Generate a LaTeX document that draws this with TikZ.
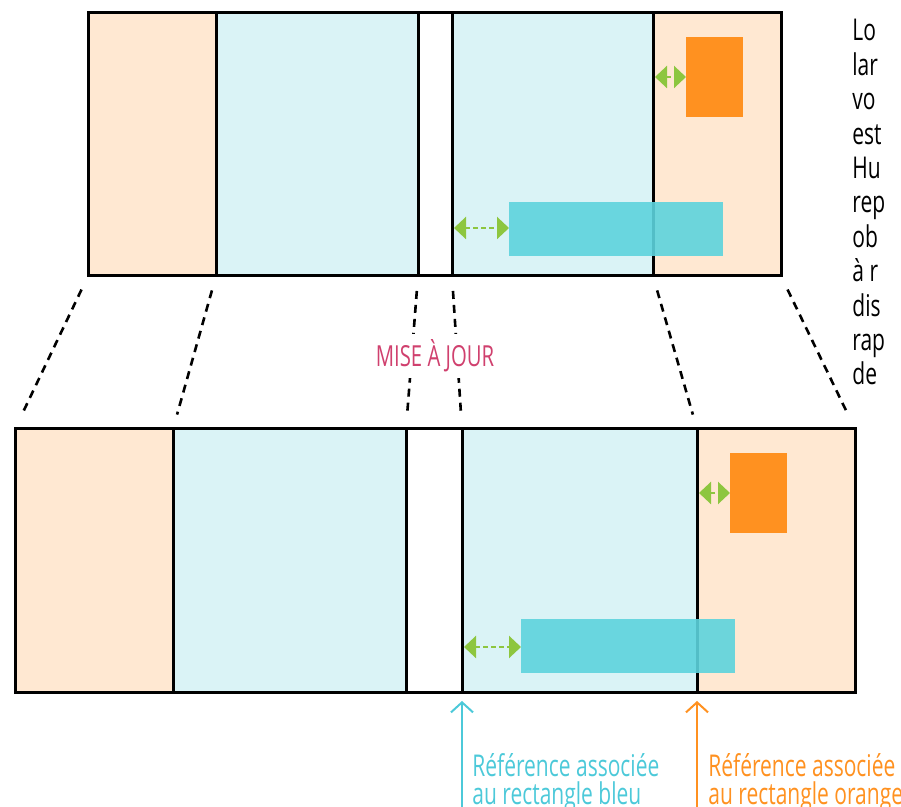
\documentclass[tikz,border=0pt]{standalone}
\usepackage{fontspec}
\setmainfont{Open Sans}[FakeStretch=0.7]
\usetikzlibrary{arrows.meta}
\definecolor{peach}{HTML}{FFE8D2}
\definecolor{pale}{HTML}{DAF3F6}
\definecolor{orng}{HTML}{FF9120}
\definecolor{cyanbox}{HTML}{5DD3DD}
\definecolor{leaf}{HTML}{8DC63F}
\definecolor{rose}{HTML}{D0406E}
\definecolor{cyantext}{HTML}{4CC9D9}
\begin{document}
\begin{tikzpicture}[x=0.5pt, y=-0.5pt,
    edge/.style={line width=1.5pt},
    zoomline/.style={line width=1.3pt, dash pattern=on 4pt off 3pt, shorten <=7.5pt, shorten >=7.5pt},
    gap/.style={leaf, line width=1.1pt, dash pattern=on 2.5pt off 1.5pt,
      {Triangle[length=6pt, width=11pt]}-{Triangle[length=6pt, width=11pt]}},
    refarrow/.style={line width=1pt, -{Straight Barb[length=5pt, width=11pt]}},
    reflabel/.style={anchor=north west, align=left, inner sep=0pt,
      font=\fontsize{15}{14}\selectfont}]
\useasboundingbox (0,0) rectangle (901,807);

% vue du haut
\fill [peach] (88,13) rectangle (216,276);
\fill [pale] (216,13) rectangle (418,276);
\fill [pale] (452,13) rectangle (653,276);
\fill [peach] (653,13) rectangle (781,276);
\draw [edge] (88,13) rectangle (781,276);
\draw [edge] (216,13) -- (216,276);
\draw [edge] (418,13) -- (418,276);
\draw [edge] (452,13) -- (452,276);
\draw [edge] (653,13) -- (653,276);
\fill [orng] (686,37) rectangle (743,117);
\fill [cyanbox, opacity=0.9] (509,202) rectangle (723,256);
\draw [gap] (655,77) -- (686,77);
\draw [gap] (454,228) -- (509,228);

% vue du bas
\fill [peach] (15,429) rectangle (173,693);
\fill [pale] (173,429) rectangle (406,693);
\fill [pale] (462,429) rectangle (697,693);
\fill [peach] (697,429) rectangle (855,693);
\draw [edge] (15,429) rectangle (855,693);
\draw [edge] (173,429) -- (173,693);
\draw [edge] (406,429) -- (406,693);
\draw [edge] (462,429) -- (462,693);
\draw [edge] (697,429) -- (697,693);
\fill [orng] (730,453) rectangle (787,533);
\fill [cyanbox, opacity=0.9] (521,619) rectangle (735,673);
\draw [gap] (699,493) -- (730,493);
\draw [gap] (464,647) -- (521,647);

% lignes de mise a jour
\draw [zoomline] (88,276) -- (15,429);
\draw [zoomline] (216,276) -- (173,429);
\draw [zoomline] (418,276) -- (406,429);
\draw [zoomline] (452,276) -- (462,429);
\draw [zoomline] (653,276) -- (697,429);
\draw [zoomline] (781,276) -- (855,429);
\node [fill=white, text=rose, inner sep=3pt, font=\fontsize{14.5}{14}\selectfont] (maj) at (435,356) {MISE À JOUR};

% references
\coordinate (bleubas) at (462,815);
\coordinate (orangebas) at (697,815);
\draw [refarrow, cyantext] (bleubas) -- (462,701);
\draw [refarrow, orng] (orangebas) -- (697,701);
\node [reflabel, text=cyantext] (refbleu) at (472,753) {Référence associée\\au rectangle bleu};
\node [reflabel, text=orng] (reforange) at (708,753) {Référence associée\\au rectangle orange};

% texte coupe a droite
\begin{scope}
  \clip (0,0) rectangle (901,807);
  \foreach \mot [count=\i] in {Lo,lar,vo,est,Hu,rep,ob,à r,dis,rap,de}
    \node [anchor=base west, inner sep=0pt, font=\fontsize{15}{15}\selectfont] (txt\i) at (852,{41+34.4*(\i-1)}) {\mot};
\end{scope}
\end{tikzpicture}
\end{document}
